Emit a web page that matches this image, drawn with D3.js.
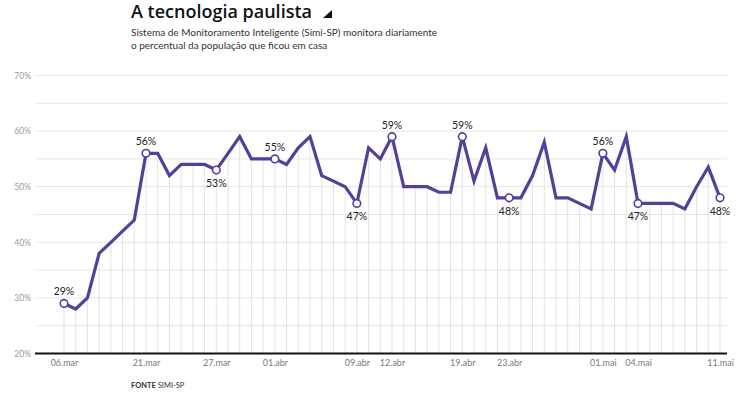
<!DOCTYPE html>
<html>
<head>
<meta charset="utf-8">
<script src="https://cdn.jsdelivr.net/npm/d3@7"></script>
<style>
  html, body { margin: 0; padding: 0; background: #fff; }
  svg { display: block; }
</style>
</head>
<body>
<svg id="chart" width="750" height="394"></svg>
<script>
// ---- data ----
const dates = [
  "06.mar","09.mar","10.mar","12.mar","16.mar","18.mar","19.mar",
  "21.mar","22.mar","23.mar","24.mar","25.mar","26.mar","27.mar",
  "28.mar","29.mar","30.mar","31.mar","01.abr",
  "02.abr","03.abr","04.abr","05.abr","06.abr","07.abr","09.abr",
  "10.abr","11.abr","12.abr",
  "13.abr","14.abr","15.abr","16.abr","17.abr","19.abr",
  "20.abr","21.abr","22.abr","23.abr",
  "24.abr","25.abr","26.abr","27.abr","28.abr","29.abr","30.abr","01.mai",
  "02.mai","03.mai","04.mai",
  "05.mai","06.mai","07.mai","08.mai","09.mai","10.mai","11.mai"
];
const values = [
  29, 28, 30, 38, 40, 42, 44,
  56, 56, 52, 54, 54, 54, 53,
  56, 59, 55, 55, 55,
  54, 57, 59, 52, 51, 50, 47,
  57, 55, 59,
  50, 50, 50, 49, 49, 59,
  51, 57, 48, 48,
  48, 52, 58, 48, 48, 47, 46, 56,
  53, 59, 47,
  47, 47, 47, 46, 50, 53.5, 48
];
const highlighted = ["06.mar","21.mar","27.mar","01.abr","09.abr","12.abr","19.abr","23.abr","01.mai","04.mai","11.mai"];
const labelBelow = ["27.mar","09.abr","23.abr","04.mai","11.mai"];
const highlightLabels = ["29%","56%","53%","55%","47%","59%","59%","48%","56%","47%","48%"];
const yTicks = [20, 30, 40, 50, 60, 70];
const yGrid = [25, 30, 35, 40, 45, 50, 55, 60, 65, 70];

const title = "A tecnologia paulista";
const subtitle = ["Sistema de Monitoramento Inteligente (Simi-SP) monitora diariamente",
                  "o percentual da população que ficou em casa"];
const source = ["FONTE", "SIMI-SP"];

// ---- chart ----
const svg = d3.select("#chart");
const data = dates.map((d, i) => ({ date: d, value: values[i] }));

const x = d3.scalePoint().domain(dates).range([64, 720]);
const y = d3.scaleLinear().domain([20, 70]).range([353.5, 75.5]);
const purple = "#553f98";
const font = "Lato, 'Open Sans', sans-serif";

// horizontal gridlines
svg.append("g")
  .selectAll("line").data(yGrid).join("line")
  .attr("x1", 35).attr("x2", 727)
  .attr("y1", d => y(d)).attr("y2", d => y(d))
  .attr("stroke", "#e6e6e6").attr("stroke-width", 1);

// drop lines
svg.append("g")
  .selectAll("line").data(data).join("line")
  .attr("x1", d => x(d.date)).attr("x2", d => x(d.date))
  .attr("y1", d => y(d.value)).attr("y2", y(20))
  .attr("stroke", "#e3e3e3").attr("stroke-width", 1);

// y axis labels
const yAxis = d3.axisLeft(y).tickValues(yTicks).tickFormat(d => d + "%").tickSize(0).tickPadding(0);
const gy = svg.append("g").attr("transform", "translate(31,0)").call(yAxis);
gy.select(".domain").remove();
gy.selectAll("text").attr("font-family", font).attr("font-size", 8.5).attr("fill", "#9a9a9a");

// baseline
svg.append("line")
  .attr("x1", 35).attr("x2", 727)
  .attr("y1", y(20)).attr("y2", y(20))
  .attr("stroke", "#111").attr("stroke-width", 2.2);

// x axis labels
const xAxis = d3.axisBottom(x).tickValues(highlighted).tickSize(0).tickPadding(6);
const gx = svg.append("g").attr("transform", `translate(0,${y(20)})`).call(xAxis);
gx.select(".domain").remove();
gx.selectAll("text").attr("font-family", font).attr("font-size", 9).attr("fill", "#7a7a7a");

// line
const line = d3.line().x(d => x(d.date)).y(d => y(d.value));
svg.append("path").datum(data)
  .attr("d", line)
  .attr("fill", "none")
  .attr("stroke", purple)
  .attr("stroke-width", 3.2)
  .attr("stroke-linejoin", "miter")
  .attr("stroke-linecap", "butt");

// markers
const hl = data.filter(d => highlighted.includes(d.date));
svg.append("g").selectAll("circle").data(hl).join("circle")
  .attr("cx", d => x(d.date)).attr("cy", d => y(d.value))
  .attr("r", 3.8)
  .attr("fill", "#fff").attr("stroke", purple).attr("stroke-width", 1.6);

svg.append("g").selectAll("text").data(hl).join("text")
  .attr("x", d => x(d.date))
  .attr("y", d => labelBelow.includes(d.date) ? y(d.value) + 17 : y(d.value) - 8)
  .attr("text-anchor", "middle")
  .attr("font-family", font).attr("font-size", 10.5).attr("fill", "#222")
  .text((d, i) => highlightLabels[i]);

// title
const t = svg.append("text")
  .attr("x", 131).attr("y", 18)
  .attr("font-family", "'Open Sans', sans-serif").attr("font-weight", 600)
  .attr("font-size", 18).attr("fill", "#111")
  .text(title);
const tw = t.node().getComputedTextLength();
svg.append("path")
  .attr("d", `M${131 + tw + 20},10 L${131 + tw + 20},18 L${131 + tw + 11},18 Z`)
  .attr("fill", "#111");

svg.append("g").selectAll("text").data(subtitle).join("text")
  .attr("x", 131).attr("y", (d, i) => 35.5 + i * 13)
  .attr("font-family", font).attr("font-size", 10).attr("fill", "#333")
  .text(d => d);

const src = svg.append("text").attr("x", 131).attr("y", 388)
  .attr("font-family", font).attr("font-size", 7.5).attr("fill", "#333");
src.append("tspan").attr("font-weight", 700).text(source[0]);
src.append("tspan").text(" " + source[1]);
</script>
</body>
</html>
